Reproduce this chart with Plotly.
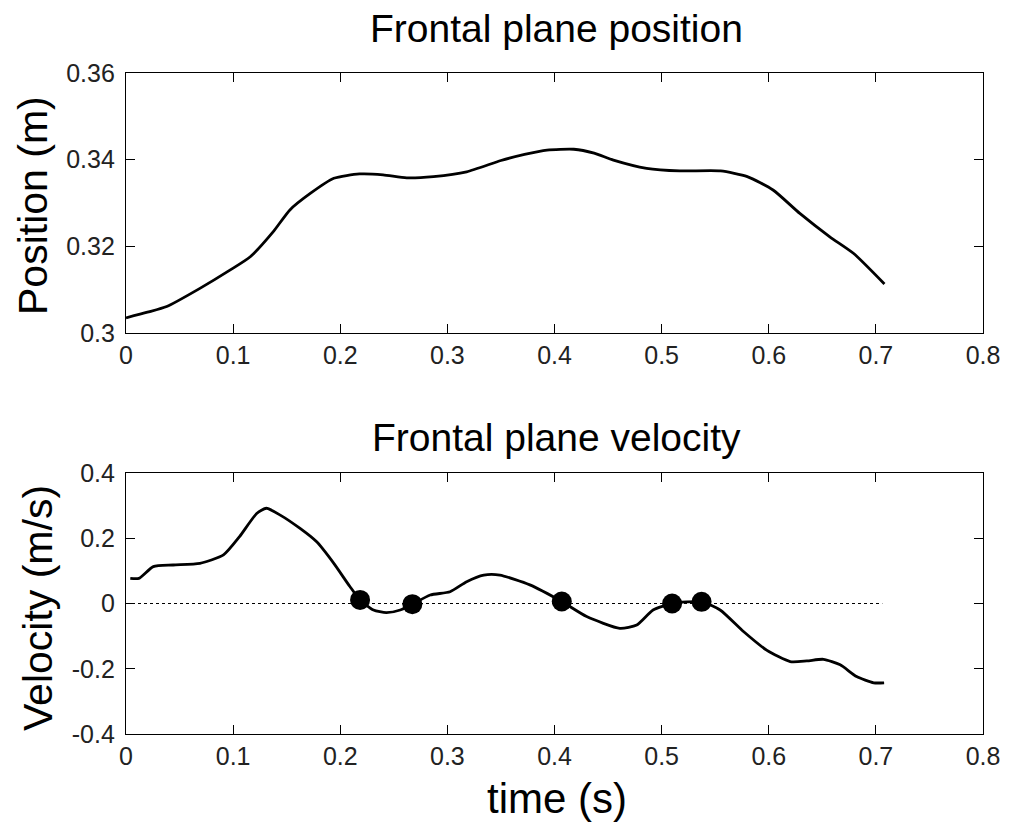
import plotly.graph_objects as go
from plotly.subplots import make_subplots

# ---- data ----
t_pos = [0.0, 0.02, 0.038, 0.069, 0.097, 0.116, 0.1375, 0.153, 0.172, 0.194, 0.218, 0.240,
         0.262, 0.287, 0.318, 0.35, 0.372, 0.393, 0.418, 0.437, 0.455, 0.486, 0.517, 0.555,
         0.580, 0.604, 0.629, 0.657, 0.679, 0.708]
position = [0.3035, 0.3048, 0.3061, 0.3103, 0.3145, 0.3176, 0.3234, 0.3284, 0.3322, 0.3357,
            0.3367, 0.3365, 0.3358, 0.3361, 0.3372, 0.3398, 0.3412, 0.3422, 0.3424, 0.3415,
            0.3399, 0.3380, 0.3374, 0.3374, 0.3361, 0.3330, 0.3276, 0.3222, 0.3184, 0.3113]

t_vel = [0.004, 0.012, 0.0255, 0.044, 0.069, 0.091, 0.106, 0.122, 0.131, 0.144, 0.1625, 0.178,
         0.194, 0.209, 0.2185, 0.231, 0.243, 0.256, 0.2673, 0.284, 0.3025, 0.318, 0.334, 0.349,
         0.377, 0.4068, 0.430, 0.461, 0.4768, 0.492, 0.5098, 0.5373, 0.5546, 0.5764, 0.598,
         0.62, 0.6356, 0.651, 0.6667, 0.682, 0.698, 0.7077]
velocity = [0.077, 0.077, 0.113, 0.118, 0.123, 0.149, 0.205, 0.276, 0.292, 0.271, 0.230, 0.189,
            0.123, 0.052, 0.011, -0.020, -0.028, -0.020, -0.002, 0.026, 0.036, 0.067, 0.087, 0.087,
            0.057, 0.006, -0.040, -0.076, -0.066, -0.020, 0.0, 0.005, -0.020, -0.086, -0.143,
            -0.178, -0.176, -0.171, -0.188, -0.224, -0.243, -0.243]

t_zero = [0.2185, 0.2673, 0.4068, 0.5098, 0.5373]
v_zero = [0.011, -0.002, 0.006, 0.0, 0.005]

zero_line_t = [0.0, 0.706]
zero_line_v = [0.0, 0.0]

x_ticks = [0, 0.1, 0.2, 0.3, 0.4, 0.5, 0.6, 0.7, 0.8]
x_ticktext = ["0", "0.1", "0.2", "0.3", "0.4", "0.5", "0.6", "0.7", "0.8"]
pos_ticks = [0.3, 0.32, 0.34, 0.36]
pos_ticktext = ["0.3", "0.32", "0.34", "0.36"]
vel_ticks = [-0.4, -0.2, 0, 0.2, 0.4]
vel_ticktext = ["-0.4", "-0.2", "0", "0.2", "0.4"]

titles = ["Frontal plane position", "Frontal plane velocity"]
ylabels = ["Position (m)", "Velocity (m/s)"]
xlabel = "time (s)"

# ---- layout geometry (page pixels; page body has an 8px offset) ----
OFF = 8
W, H = 1017 - OFF, 827 - OFF
L, R, T, B = 126 - OFF, 34, 73 - OFF, 93
PH = H - T - B
PW = W - L - R
PLOT_BOTTOM = 734 - OFF


def py(p):
    # p: pixel y in the final page
    return (PLOT_BOTTOM - (p - OFF)) / PH


def px(p):
    return (p - OFF - L) / PW


top_dom = [py(333), 1.0]
bot_dom = [0.0, py(473)]

FONT = "Liberation Sans, Arial, sans-serif"

fig = make_subplots(rows=2, cols=1)

fig.add_trace(go.Scatter(x=t_pos, y=position, mode="lines",
                         line=dict(color="black", width=2.8, shape="spline", smoothing=0.6),
                         showlegend=False), row=1, col=1)
fig.add_trace(go.Scatter(x=zero_line_t, y=zero_line_v, mode="lines",
                         line=dict(color="black", width=1.2, dash="dot"),
                         showlegend=False), row=2, col=1)
fig.add_trace(go.Scatter(x=t_vel, y=velocity, mode="lines",
                         line=dict(color="black", width=2.8, shape="spline", smoothing=0.6),
                         showlegend=False), row=2, col=1)
fig.add_trace(go.Scatter(x=t_zero, y=v_zero, mode="markers",
                         marker=dict(color="black", size=20, symbol="circle"),
                         showlegend=False), row=2, col=1)

axis_common = dict(showline=True, linecolor="black", linewidth=1.2, mirror="ticks",
                   ticks="inside", ticklen=9, tickcolor="black", tickwidth=1.2,
                   showgrid=False, zeroline=False, automargin=False,
                   tickfont=dict(family=FONT, size=25, color="#222222"))

fig.update_xaxes(range=[0, 0.8], tickvals=x_ticks, ticktext=x_ticktext,
                 ticklabelstandoff=0, **axis_common)
fig.update_yaxes(ticklabelstandoff=5, **axis_common)
fig.update_yaxes(range=[0.3, 0.36], tickvals=pos_ticks, ticktext=pos_ticktext,
                 domain=top_dom, row=1, col=1)
fig.update_yaxes(range=[-0.4, 0.4], tickvals=vel_ticks, ticktext=vel_ticktext,
                 domain=bot_dom, row=2, col=1)

ann = []
ann.append(dict(text=titles[0], x=px(556), y=py(28), xref="paper", yref="paper",
                xanchor="center", yanchor="middle", showarrow=False,
                font=dict(family=FONT, size=39, color="black")))
ann.append(dict(text=titles[1], x=px(556), y=py(437), xref="paper", yref="paper",
                xanchor="center", yanchor="middle", showarrow=False,
                font=dict(family=FONT, size=39, color="black")))
ann.append(dict(text=ylabels[0], x=px(33), y=py(206), xref="paper", yref="paper",
                xanchor="center", yanchor="middle", showarrow=False, textangle=-90,
                font=dict(family=FONT, size=41, color="black")))
ann.append(dict(text=ylabels[1], x=px(38), y=py(608), xref="paper", yref="paper",
                xanchor="center", yanchor="middle", showarrow=False, textangle=-90,
                font=dict(family=FONT, size=41, color="black")))
ann.append(dict(text=xlabel, x=px(557), y=py(798), xref="paper", yref="paper",
                xanchor="center", yanchor="middle", showarrow=False,
                font=dict(family=FONT, size=42, color="black")))

fig.update_layout(width=W, height=H, margin=dict(l=L, r=R, t=T, b=B),
                  plot_bgcolor="white", paper_bgcolor="white",
                  annotations=ann, showlegend=False)

fig.write_html("out.html")
